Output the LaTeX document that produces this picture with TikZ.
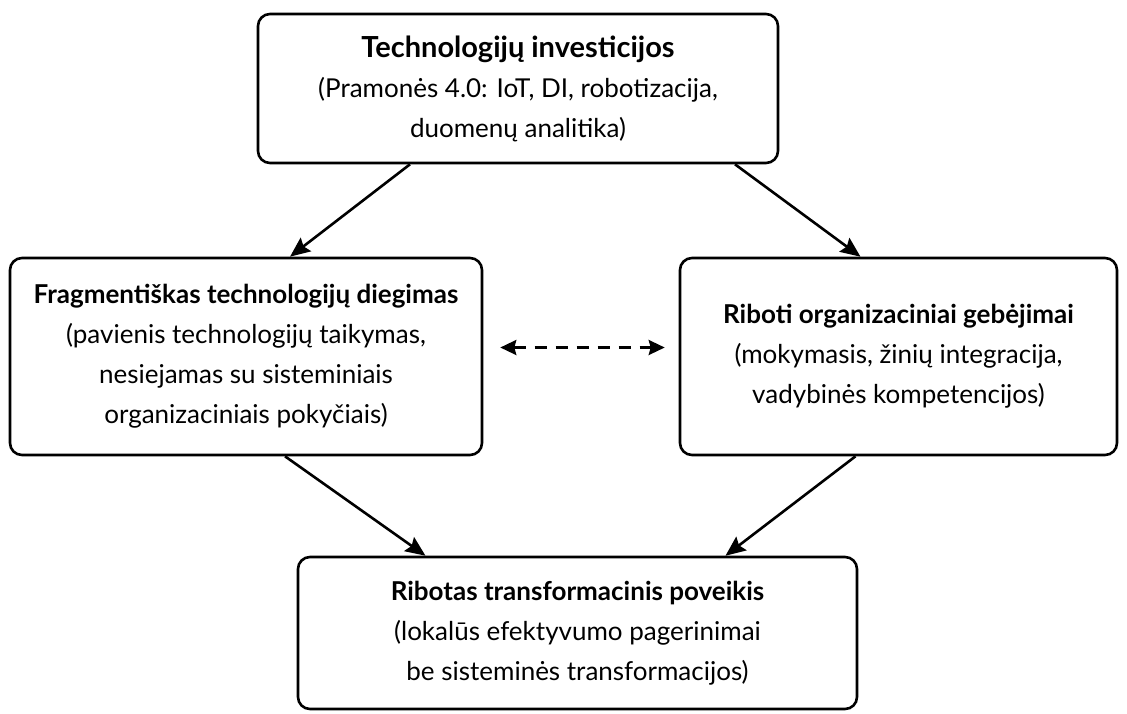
\documentclass[tikz,border=0pt]{standalone}
\usepackage{fontspec}
\setmainfont{Lato}
\usetikzlibrary{arrows.meta,positioning}

\begin{document}
\begin{tikzpicture}[
    x=1pt, y=-1pt,
    block/.style={rectangle, draw=black, line width=2.6pt, fill=white, rounded corners=12pt, align=center, inner sep=0pt, font=\fontsize{26}{40}\selectfont},
    arrow/.style={-{Stealth[length=20pt, width=17pt, inset=3pt]}, line width=2.6pt},
    biarrow/.style={{Stealth[length=16pt, width=15pt, inset=2pt]}-{Stealth[length=16pt, width=15pt, inset=2pt]}, line width=2.6pt, dash pattern=on 12pt off 9pt}
]
\useasboundingbox (0,0) rectangle (1127,713);

% Nodes
\node[block, minimum width=520pt, minimum height=149pt] (tech) at (518,88.5)
    {{\bfseries\fontsize{29}{40}\selectfont Technologijų investicijos}\\(Pramonės 4.0: IoT, DI, robotizacija,\\duomenų analitika)};
\node[block, minimum width=472pt, minimum height=197pt] (frag) at (246,356.5)
    {{\bfseries\fontsize{26}{40}\selectfont Fragmentiškas technologijų diegimas}\\(pavienis technologijų taikymas,\\nesiejamas su sisteminiais\\organizaciniais pokyčiais)};
\node[block, minimum width=437pt, minimum height=197pt] (gebe) at (898.5,356.5)
    {{\bfseries\fontsize{26}{40}\selectfont Riboti organizaciniai gebėjimai}\\(mokymasis, žinių integracija,\\vadybinės kompetencijos)};
\node[block, minimum width=559pt, minimum height=152pt] (povk) at (577.5,633)
    {{\bfseries\fontsize{26}{40}\selectfont Ribotas transformacinis poveikis}\\(lokalūs efektyvumo pagerinimai\\be sisteminės transformacijos)};

% Arrows
\draw[arrow] ([xshift=-108pt]tech.south) -- ([xshift=44pt]frag.north);
\draw[arrow] ([xshift=217pt]tech.south) -- ([xshift=-38pt]gebe.north);
\draw[arrow] ([xshift=39pt]frag.south) -- ([xshift=-152pt]povk.north);
\draw[arrow] ([xshift=-43pt]gebe.south) -- ([xshift=148pt]povk.north);
\draw[biarrow] ([xshift=17pt,yshift=9pt]frag.east) -- ([xshift=-14pt,yshift=9pt]gebe.west);

\end{tikzpicture}
\end{document}
